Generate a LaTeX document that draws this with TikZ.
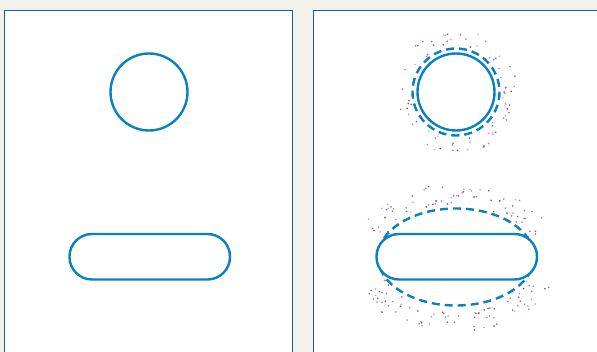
\documentclass[tikz,border=0pt]{standalone}
\begin{document}
\begin{tikzpicture}[x=1pt,y=-1pt,
  panel/.style={draw=panelblue,line width=1pt,fill=white},
  shapeline/.style={draw=shapeblue,line width=2.4pt},
  dashline/.style={draw=shapeblue,line width=2.4pt,dash pattern=on 8pt off 5pt},
  speck/.style={fill=speckpurple}]
\definecolor{bg}{HTML}{F3F1EC}
\definecolor{panelblue}{HTML}{1F5A9E}
\definecolor{shapeblue}{HTML}{0A80C4}
\definecolor{speckpurple}{HTML}{7A3C80}
\useasboundingbox (0,0) rectangle (597,352);
\fill[bg] (0,0) rectangle (597,352);
% panels
\draw[panel] (4.5,10.5) rectangle (292.5,360);
\draw[panel] (313.5,10.5) rectangle (610,360);
% left panel shapes
\draw[shapeline] (149,92) circle (38.5);
\draw[shapeline,rounded corners=22.5pt] (69.5,234) rectangle (230,279.5);
% right panel specks around circle
\pgfmathsetseed{7}
\foreach \i in {1,...,75}{
  \pgfmathsetmacro\ang{360*rnd}
  \pgfmathsetmacro\rr{46+16*rnd}
  \pgfmathsetmacro\op{0.4+0.6*rnd}
  \fill[speck,opacity=\op] ({456+\rr*cos(\ang)},{92+\rr*sin(\ang)}) circle (0.9);
}
% specks around stadium (top and bottom bands)
\foreach \i in {1,...,150}{
  \pgfmathsetmacro\ang{22+136*rnd+180*int(2*rnd)}
  \pgfmathsetmacro\sc{1.08+0.42*rnd}
  \pgfmathsetmacro\op{0.4+0.6*rnd}
  \fill[speck,opacity=\op] ({456+70*\sc*cos(\ang)},{259+50*\sc*sin(\ang)}) circle (0.9);
}
% right panel shapes
\draw[dashline] (456,92) circle (43.5);
\draw[shapeline,fill=white] (456,92) circle (38.5);
\draw[dashline] (456,257) ellipse (78 and 48.5);
\draw[shapeline,fill=white,rounded corners=22.5pt] (376.5,234) rectangle (537,279.5);
\end{tikzpicture}
\end{document}
